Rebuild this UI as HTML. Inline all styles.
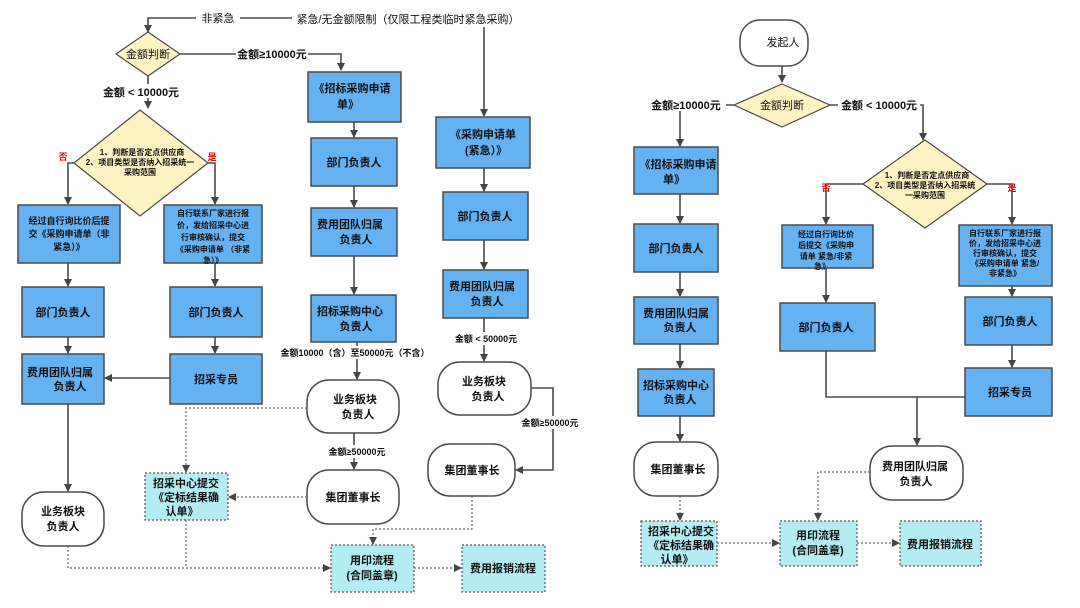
<!DOCTYPE html>
<html><head><meta charset="utf-8"><style>
html,body{margin:0;padding:0;background:#fff;}
svg{display:block;}
text{font-family:"Liberation Sans","Noto Sans CJK SC",sans-serif;fill:#111;font-weight:bold;}
.b{fill:#64b2f2;stroke:#4a4a4a;stroke-width:1.5;}
.r{fill:#fff;stroke:#4a4a4a;stroke-width:1.5;}
.d{fill:#fdf3c2;stroke:#4a4a4a;stroke-width:1.2;}
.c{fill:#b3ecf2;stroke:#555;stroke-width:1.2;stroke-dasharray:2,2;}
.l{fill:none;stroke:#4a4a4a;stroke-width:1.6;}
.dl{fill:none;stroke:#666;stroke-width:1.2;stroke-dasharray:2,2;}
.t{font-size:11px;text-anchor:middle;}
.s{font-size:9px;text-anchor:middle;}
.x{font-size:8px;text-anchor:middle;}
.y{font-size:9px;text-anchor:middle;}
.red{fill:#e00;font-size:9px;text-anchor:middle;}
</style></head><body>
<svg width="1080" height="608" viewBox="0 0 1080 608" xmlns="http://www.w3.org/2000/svg">
<defs><marker id="a" markerWidth="8" markerHeight="8" refX="7" refY="4" orient="auto" markerUnits="userSpaceOnUse"><path d="M0,0 L8,4 L0,8 Z" fill="#444"/></marker></defs>

<!-- LEFT DIAGRAM -->
<path class="l" d="M484,18 H148 V32" marker-end="url(#a)"/>
<rect x="196" y="10" width="44" height="14" fill="#fff"/>
<text class="t" x="218" y="22" style="font-weight:normal">非紧急</text>
<rect x="292" y="10" width="232" height="16" fill="#fff"/>
<text class="t" x="408" y="23" style="font-weight:normal">紧急/无金额限制（仅限工程类临时紧急采购）</text>
<path class="l" d="M484,27 V116" marker-end="url(#a)"/>

<polygon class="d" points="148,32 180,54 148,76 116,54"/>
<text class="t" x="148" y="58" style="font-weight:normal">金额判断</text>
<path class="l" d="M180,54 H341 V70" marker-end="url(#a)"/>
<rect x="236" y="46" width="72" height="14" fill="#fff"/>
<text class="t" x="272" y="58">金额≥10000元</text>
<path class="l" d="M148,76 V108" marker-end="url(#a)"/>
<rect x="100" y="84" width="82" height="14" fill="#fff"/>
<text class="t" x="141" y="96">金额 &lt; 10000元</text>

<polygon class="d" points="140,110 208,163 140,216 74,163"/>
<text class="x" x="142" y="155">1、判断是否定点供应商</text>
<text class="x" x="140" y="165">2、项目类型是否纳入招采统一</text>
<text class="x" x="140" y="175">采购范围</text>
<path class="l" d="M74,163 H68 V204" marker-end="url(#a)"/>
<path class="l" d="M208,163 H215 V204" marker-end="url(#a)"/>
<text class="red" x="63" y="160">否</text>
<text class="red" x="212" y="160">是</text>

<rect class="b" x="18" y="205" width="102" height="58"/>
<text class="s" x="69" y="224">经过自行询比价后提</text><text class="s" x="69" y="237">交《采购申请单（非</text><text class="s" x="69" y="250">紧急）》</text>
<rect class="b" x="164" y="205" width="98" height="58"/>
<text class="x" x="213" y="216">自行联系厂家进行报</text><text class="x" x="213" y="228">价，发给招采中心进</text><text class="x" x="213" y="240">行审核确认，提交</text><text class="x" x="213" y="252">《采购申请单 （非紧</text><text class="x" x="213" y="263">急）》</text>
<path class="l" d="M68,263 V286" marker-end="url(#a)"/>
<path class="l" d="M215,263 V286" marker-end="url(#a)"/>
<rect class="b" x="22" y="287" width="82" height="50"/>
<text class="t" x="63" y="316">部门负责人</text>
<rect class="b" x="170" y="287" width="92" height="50"/>
<text class="t" x="216" y="316">部门负责人</text>
<path class="l" d="M68,337 V353" marker-end="url(#a)"/>
<path class="l" d="M215,337 V353" marker-end="url(#a)"/>
<rect class="b" x="22" y="354" width="82" height="50"/>
<text class="t" x="60" y="376">费用团队归属</text><text class="t" x="70" y="390">负责人</text>
<rect class="b" x="170" y="354" width="92" height="50"/>
<text class="t" x="216" y="383">招采专员</text>
<path class="l" d="M170,378 H105" marker-end="url(#a)"/>
<path class="l" d="M68,404 V491" marker-end="url(#a)"/>
<rect class="r" x="22" y="492" width="82" height="54" rx="22"/>
<text class="t" x="63" y="515">业务板块</text><text class="t" x="63" y="530">负责人</text>

<!-- col3 -->
<rect class="b" x="308" y="72" width="93" height="50"/>
<text class="t" x="352" y="92">《招标采购申请</text><text class="t" x="348" y="108">单》</text>
<path class="l" d="M354,122 V137" marker-end="url(#a)"/>
<rect class="b" x="311" y="138" width="86" height="48"/>
<text class="t" x="354" y="166">部门负责人</text>
<path class="l" d="M354,186 V207" marker-end="url(#a)"/>
<rect class="b" x="311" y="208" width="86" height="48"/>
<text class="t" x="350" y="228">费用团队归属</text><text class="t" x="356" y="243">负责人</text>
<path class="l" d="M354,256 V294" marker-end="url(#a)"/>
<rect class="b" x="311" y="295" width="85" height="47"/>
<text class="t" x="350" y="315">招标采购中心</text><text class="t" x="356" y="330">负责人</text>
<path class="l" d="M357,342 V379" marker-end="url(#a)"/>
<rect x="270" y="346" width="170" height="13" fill="#fff"/>
<text class="y" x="355" y="356">金额10000（含）至50000元（不含）</text>
<rect class="r" x="307" y="380" width="92" height="53" rx="22"/>
<text class="t" x="355" y="403">业务板块</text><text class="t" x="358" y="418">负责人</text>
<path class="l" d="M354,433 V469" marker-end="url(#a)"/>
<rect x="318" y="445" width="78" height="13" fill="#fff"/>
<text class="y" x="357" y="455">金额≥50000元</text>
<rect class="r" x="307" y="470" width="92" height="54" rx="22"/>
<text class="t" x="353" y="501">集团董事长</text>

<!-- col4 -->
<rect class="b" x="436" y="117" width="94" height="51"/>
<text class="t" x="483" y="138">《采购申请单</text><text class="t" x="486" y="154">(紧急）》</text>
<path class="l" d="M484,168 V191" marker-end="url(#a)"/>
<rect class="b" x="443" y="192" width="85" height="48"/>
<text class="t" x="485" y="220">部门负责人</text>
<path class="l" d="M484,240 V269" marker-end="url(#a)"/>
<rect class="b" x="443" y="270" width="85" height="48"/>
<text class="t" x="482" y="290">费用团队归属</text><text class="t" x="487" y="305">负责人</text>
<path class="l" d="M484,318 V361" marker-end="url(#a)"/>
<rect x="446" y="332" width="80" height="13" fill="#fff"/>
<text class="y" x="486" y="342">金额 &lt; 50000元</text>
<rect class="r" x="438" y="362" width="93" height="53" rx="22"/>
<text class="t" x="484" y="385">业务板块</text><text class="t" x="488" y="400">负责人</text>
<path class="l" d="M531,388 H553 V470 H516" marker-end="url(#a)"/>
<rect x="512" y="416" width="78" height="13" fill="#fff"/>
<text class="y" x="550" y="426">金额≥50000元</text>
<rect class="r" x="428" y="444" width="87" height="52" rx="22"/>
<text class="t" x="472" y="474">集团董事长</text>

<!-- dotted left -->
<rect class="c" x="145" y="473" width="83" height="47"/>
<text class="t" x="186" y="487">招采中心提交</text><text class="t" x="186" y="501">《定标结果确</text><text class="t" x="182" y="515">认单》</text>
<path class="dl" d="M307,408 H186 V472" marker-end="url(#a)"/>
<path class="dl" d="M307,497 H229" marker-end="url(#a)"/>
<path class="dl" d="M68,546 V568 H330" marker-end="url(#a)"/>
<path class="dl" d="M186,520 V568"/>
<path class="dl" d="M472,496 V529 H373 V544" marker-end="url(#a)"/>
<rect class="c" x="331" y="545" width="83" height="47"/>
<text class="t" x="372" y="564">用印流程</text><text class="t" x="372" y="579">(合同盖章)</text>
<path class="dl" d="M414,568 H461" marker-end="url(#a)"/>
<rect class="c" x="462" y="545" width="83" height="47"/>
<text class="t" x="503" y="572">费用报销流程</text>

<!-- RIGHT DIAGRAM -->
<rect class="r" x="740" y="20" width="68" height="46" rx="20"/>
<text class="t" x="783" y="46" style="font-weight:normal">发起人</text>
<path class="l" d="M782,66 V82" marker-end="url(#a)"/>
<polygon class="d" points="782,84 830,105 782,127 734,105"/>
<text class="t" x="782" y="109" style="font-weight:normal">金额判断</text>
<path class="l" d="M734,105 H680 V146" marker-end="url(#a)"/>
<rect x="646" y="97" width="80" height="14" fill="#fff"/>
<text class="t" x="686" y="109">金额≥10000元</text>
<path class="l" d="M830,105 H923 V140" marker-end="url(#a)"/>
<rect x="838" y="97" width="82" height="14" fill="#fff"/>
<text class="t" x="879" y="109">金额 &lt; 10000元</text>

<rect class="b" x="634" y="147" width="84" height="47"/>
<text class="t" x="678" y="168">《招标采购申请</text><text class="t" x="674" y="183">单》</text>
<path class="l" d="M680,194 V223" marker-end="url(#a)"/>
<rect class="b" x="634" y="224" width="84" height="48"/>
<text class="t" x="676" y="252">部门负责人</text>
<path class="l" d="M680,272 V296" marker-end="url(#a)"/>
<rect class="b" x="634" y="297" width="84" height="47"/>
<text class="t" x="676" y="317">费用团队归属</text><text class="t" x="680" y="331">负责人</text>
<path class="l" d="M680,344 V368" marker-end="url(#a)"/>
<rect class="b" x="638" y="369" width="76" height="47"/>
<text class="t" x="676" y="389">招标采购中心</text><text class="t" x="680" y="403">负责人</text>
<path class="l" d="M680,416 V441" marker-end="url(#a)"/>
<rect class="r" x="634" y="442" width="84" height="54" rx="22"/>
<text class="t" x="678" y="473">集团董事长</text>
<path class="dl" d="M680,496 V520" marker-end="url(#a)"/>
<rect class="c" x="641" y="521" width="76" height="45"/>
<text class="t" x="681" y="535">招采中心提交</text><text class="t" x="681" y="549">《定标结果确</text><text class="t" x="677" y="563">认单》</text>

<polygon class="d" points="925,140 987,184 925,228 863,184"/>
<text class="x" x="927" y="178">1、判断是否定点供应商</text>
<text class="x" x="925" y="188">2、项目类型是否纳入招采统</text>
<text class="x" x="925" y="198">一采购范围</text>
<path class="l" d="M863,184 H826 V224" marker-end="url(#a)"/>
<path class="l" d="M987,184 H1012 V224" marker-end="url(#a)"/>
<text class="red" x="826" y="191">否</text>
<text class="red" x="1012" y="191">是</text>
<rect class="b" x="782" y="225" width="91" height="43"/>
<text class="x" x="826" y="237">经过自行询比价</text><text class="x" x="826" y="248">后提交《采购申</text><text class="x" x="826" y="259">请单 紧急/非紧</text><text class="x" x="822" y="269">急》</text>
<rect class="b" x="959" y="225" width="93" height="61"/>
<text class="x" x="1005" y="236">自行联系厂家进行报</text><text class="x" x="1005" y="246">价，发给招采中心进</text><text class="x" x="1005" y="256">行审核确认，提交</text><text class="x" x="1005" y="266">《采购申请单 紧急/</text><text class="x" x="1005" y="276">非紧急》</text>
<path class="l" d="M826,268 V302" marker-end="url(#a)"/>
<rect class="b" x="780" y="303" width="95" height="48"/>
<text class="t" x="826" y="331">部门负责人</text>
<path class="l" d="M1012,286 V296" marker-end="url(#a)"/>
<rect class="b" x="965" y="297" width="87" height="48"/>
<text class="t" x="1010" y="325">部门负责人</text>
<path class="l" d="M1012,345 V367" marker-end="url(#a)"/>
<rect class="b" x="965" y="368" width="87" height="48"/>
<text class="t" x="1010" y="396">招采专员</text>
<path class="l" d="M826,351 V397 H965"/>
<path class="l" d="M917,397 V445" marker-end="url(#a)"/>
<rect class="r" x="870" y="446" width="93" height="54" rx="22"/>
<text class="t" x="915" y="470">费用团队归属</text><text class="t" x="916" y="485">负责人</text>
<path class="dl" d="M870,472 H818 V520" marker-end="url(#a)"/>
<rect class="c" x="780" y="521" width="77" height="45"/>
<text class="t" x="818" y="539">用印流程</text><text class="t" x="818" y="554">(合同盖章)</text>
<path class="dl" d="M717,543 H779" marker-end="url(#a)"/>
<path class="dl" d="M857,543 H899" marker-end="url(#a)"/>
<rect class="c" x="900" y="521" width="81" height="45"/>
<text class="t" x="940" y="548">费用报销流程</text>
</svg>
</body></html>
